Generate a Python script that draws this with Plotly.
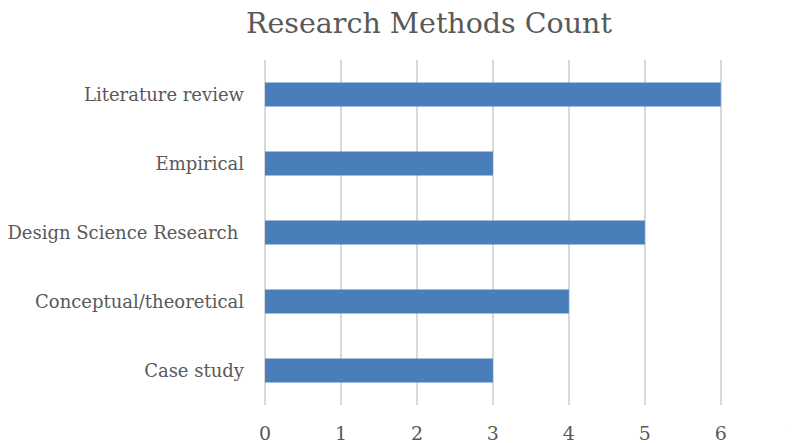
import plotly.graph_objects as go

categories = ["Case study", "Conceptual/theoretical", "Design Science Research\u00a0", "Empirical", "Literature review"]
counts = [3, 4, 5, 3, 6]
x_ticks = [0, 1, 2, 3, 4, 5, 6, 7]

FONT = "DejaVu Serif"
TEXT = "#595959"
GRID = "#d9d9d9"

# the page body adds an 8px offset; the figure runs past the right window edge like the reference
W, H = 800, 435

fig = go.Figure(go.Bar(
    x=counts, y=categories, orientation="h",
    marker=dict(color="#4a7ebb", line=dict(width=0)),
    hoverinfo="x+y",
))

fig.update_layout(
    template="none",
    width=W, height=H,
    margin=dict(l=257, r=11, t=52, b=38, pad=0),
    paper_bgcolor="white", plot_bgcolor="white",
    bargap=0.652,
    showlegend=False,
    title=dict(text="Research Methods Count", x=(429 - 8) / W, xref="container", xanchor="center",
               y=1 - (23 - 8) / H, yref="container", yanchor="middle",
               font=dict(family=FONT, size=28.5, color=TEXT)),
    font=dict(family=FONT, color=TEXT),
)
fig.update_xaxes(range=[0, 7.003], tickvals=x_ticks, ticktext=[str(v) for v in x_ticks],
                 showgrid=True, gridcolor=GRID, gridwidth=1.5,
                 zeroline=True, zerolinecolor=GRID, zerolinewidth=1.5,
                 showline=False, ticks="", ticklabelstandoff=15, automargin=False,
                 tickfont=dict(family=FONT, size=19, color=TEXT), fixedrange=True)
fig.update_yaxes(showgrid=False, zeroline=False, showline=False, ticks="",
                 ticklabelstandoff=20, automargin=False,
                 tickfont=dict(family=FONT, size=18, color=TEXT), fixedrange=True)

fig.write_html("out.html")
